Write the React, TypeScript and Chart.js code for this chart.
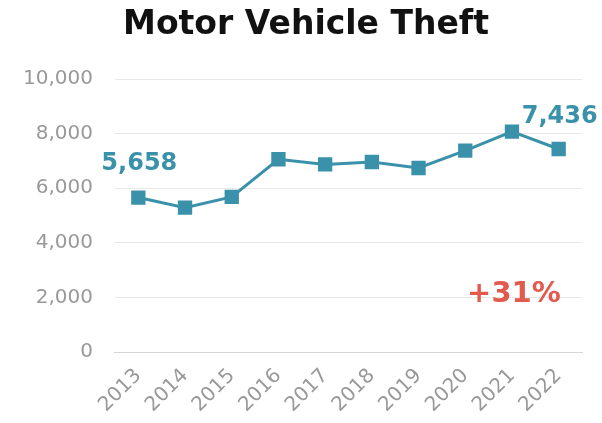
import React, { useEffect, useRef } from "react";
import { Chart, registerables } from "chart.js";

Chart.register(...registerables);

const title = "Motor Vehicle Theft";
const years = ["2013", "2014", "2015", "2016", "2017", "2018", "2019", "2020", "2021", "2022"];
const thefts = [5658, 5290, 5680, 7060, 6870, 6960, 6740, 7380, 8070, 7436];
const yTicks = [0, 2000, 4000, 6000, 8000, 10000];

const TEAL = "#3a91aa";
const RED = "#e25a4e";
const FONT = "'DejaVu Sans', sans-serif";

const fmt = (v: number) => v.toLocaleString("en-US");

const labelPlugin = {
  id: "labels",
  afterDatasetsDraw(chart: any) {
    const { ctx, scales } = chart;
    const x = scales.x;
    const y = scales.y;
    const n = thefts.length;
    ctx.save();
    ctx.textAlign = "center";
    ctx.textBaseline = "middle";
    ctx.fillStyle = "#111";
    ctx.font = `bold 33px ${FONT}`;
    ctx.fillText(title, chart.width / 2 + 5, 25);
    ctx.fillStyle = TEAL;
    ctx.font = `bold 24px ${FONT}`;
    ctx.fillText(fmt(thefts[0]), x.getPixelForValue(0) + 1, y.getPixelForValue(thefts[0]) - 34);
    ctx.fillText(fmt(thefts[n - 1]), x.getPixelForValue(n - 1) + 1, y.getPixelForValue(thefts[n - 2]) - 15);
    const pct = Math.round(((thefts[n - 1] - thefts[0]) / thefts[0]) * 100);
    ctx.fillStyle = RED;
    ctx.font = `bold 29px ${FONT}`;
    ctx.fillText(`+${pct}%`, x.getPixelForValue(n - 2) + 2, y.getPixelForValue(yTicks[1]) - 3);
    ctx.restore();
  },
};

export default function App() {
  const ref = useRef<HTMLCanvasElement>(null);
  useEffect(() => {
    if (!ref.current) return;
    const chart = new Chart(ref.current, {
      type: "line",
      data: {
        labels: years,
        datasets: [
          {
            data: thefts,
            borderColor: TEAL,
            backgroundColor: TEAL,
            borderWidth: 3,
            pointStyle: "rect",
            pointRadius: 8,
            pointHoverRadius: 8,
            tension: 0,
          },
        ],
      },
      options: {
        animation: false,
        responsive: true,
        maintainAspectRatio: false,
        layout: { padding: { left: 1, right: 20, top: 79, bottom: 2 } },
        plugins: {
          legend: { display: false },
          tooltip: { enabled: false },
          title: { display: false },
        },
        scales: {
          x: {
            offset: true,
            grid: { display: false },
            border: { display: true, color: "#d6d6d6" },
            ticks: {
              color: "#999",
              font: { family: FONT, size: 20 },
              minRotation: 45,
              maxRotation: 45,
              padding: 4,
            },
          },
          y: {
            min: 0,
            max: 10000,
            afterBuildTicks: (axis: any) => {
              axis.ticks = yTicks.map((v) => ({ value: v }));
            },
            grid: { color: "#e8e8e8", drawTicks: false },
            border: { display: false },
            ticks: {
              color: "#999",
              font: { family: FONT, size: 20 },
              padding: 22,
              callback: (v: any) => fmt(Number(v)),
            },
          },
        },
      },
      plugins: [labelPlugin],
    });
    return () => chart.destroy();
  }, []);
  return (
    <div style={{ position: "fixed", left: 0, top: 0, width: 602, height: 423, background: "#fff" }}>
      <canvas ref={ref} />
    </div>
  );
}
